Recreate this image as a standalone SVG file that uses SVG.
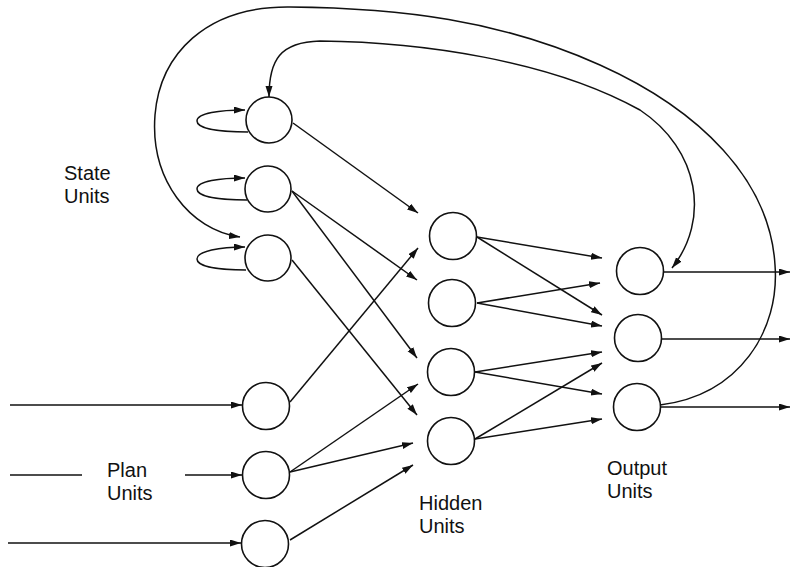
<svg xmlns="http://www.w3.org/2000/svg" width="792" height="567" viewBox="0 0 792 567">
<defs>
<marker id="ah" markerUnits="userSpaceOnUse" markerWidth="12" markerHeight="8" refX="11" refY="3.5" orient="auto-start-reverse" viewBox="0 0 12 8">
<path d="M0,0 L11,3.5 L0,7 z" fill="#111"/>
</marker>
</defs>
<style>
.u { fill: #fff; stroke: #111; stroke-width: 1.6; }
.c { fill: none; stroke: #111; stroke-width: 1.5; }
.a { marker-end: url(#ah); }
.t { font-family: "Liberation Sans", Arial, sans-serif; font-size: 20px; fill: #111; }
</style>
<rect width="792" height="567" fill="#fff"/>
<g id="connectors">
<path class="c a" d="M248,132 C220,132 197,129 197,121 C197,113 220,110 245,110"/>
<path class="c a" d="M247,200 C220,200 197,197 197,189 C197,181 220,178 245,178"/>
<path class="c a" d="M246,270 C220,270 197,267 197,259 C197,251 220,247 245,247"/>
<path class="c a" d="M660,405 C740,395 780,330 775,265 C770,180 700,110 600,65 C500,20 400,8 290,7 C205,6 160,55 155,115 C150,180 190,230 240,237"/>
<path class="c a" style="marker-start:url(#ah)" d="M269,97 C269,60 280,42 320,41 C420,42 550,60 640,110 C700,150 710,220 672,268"/>
<path class="c a" d="M10,405 L242,405"/>
<path class="c" d="M10,475 L82,475"/>
<path class="c a" d="M185,475 L242,475"/>
<path class="c a" d="M8,543 L241,543"/>
<path class="c a" d="M293,123 L418,213"/>
<path class="c a" d="M292,191 L417,280"/>
<path class="c a" d="M292,191 L417,358"/>
<path class="c a" d="M292,260 L417,415"/>
<path class="c a" d="M290,402 L418,248"/>
<path class="c a" d="M290,472 L418,384"/>
<path class="c a" d="M290,472 L413,443"/>
<path class="c a" d="M290,540 L413,465"/>
<path class="c a" d="M477,237 L602,258"/>
<path class="c a" d="M477,237 L602,315"/>
<path class="c a" d="M477,303 L600,283"/>
<path class="c a" d="M477,303 L602,326"/>
<path class="c a" d="M475,372 L602,352"/>
<path class="c a" d="M475,372 L602,394"/>
<path class="c a" d="M475,439 L602,363"/>
<path class="c a" d="M475,439 L602,419"/>
<path class="c a" d="M663,272 L790,272"/>
<path class="c a" d="M661,339 L790,339"/>
<path class="c a" d="M660,407 L790,407"/>
</g>
<g id="state1"><circle class="u" cx="269" cy="120" r="23"/></g>
<g id="state2"><circle class="u" cx="268" cy="189" r="23"/></g>
<g id="state3"><circle class="u" cx="268" cy="258" r="23"/></g>
<g id="plan1"><circle class="u" cx="266" cy="406" r="23.5"/></g>
<g id="plan2"><circle class="u" cx="266" cy="475" r="23.5"/></g>
<g id="plan3"><circle class="u" cx="265" cy="544" r="23.5"/></g>
<g id="hidden1"><circle class="u" cx="453" cy="236" r="23.5"/></g>
<g id="hidden2"><circle class="u" cx="452" cy="303" r="23.5"/></g>
<g id="hidden3"><circle class="u" cx="451" cy="372" r="23.5"/></g>
<g id="hidden4"><circle class="u" cx="451" cy="441" r="23.5"/></g>
<g id="output1"><circle class="u" cx="640" cy="271" r="23.5"/></g>
<g id="output2"><circle class="u" cx="638" cy="338" r="23.5"/></g>
<g id="output3"><circle class="u" cx="637" cy="407" r="23.5"/></g>
<g id="labels">
<text class="t" x="64" y="180">State</text>
<text class="t" x="64" y="203">Units</text>
<text class="t" x="107" y="477">Plan</text>
<text class="t" x="107" y="500">Units</text>
<text class="t" x="419" y="510">Hidden</text>
<text class="t" x="419" y="533">Units</text>
<text class="t" x="607" y="475">Output</text>
<text class="t" x="607" y="498">Units</text>
</g>
</svg>
